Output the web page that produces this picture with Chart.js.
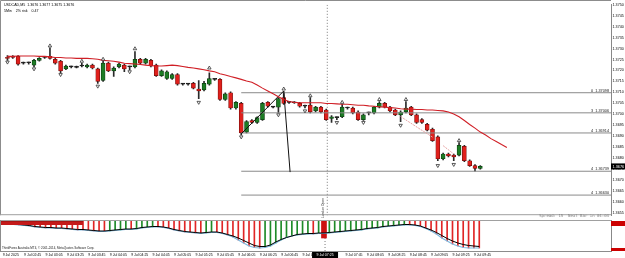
<!DOCTYPE html>
<html><head><meta charset="utf-8">
<script src="https://cdn.jsdelivr.net/npm/chart.js@4.4.1/dist/chart.umd.min.js"></script>
<style>
html,body{margin:0;padding:0;background:#fff;overflow:hidden}
#wrap{position:relative;width:625px;height:258px;background:#fff}
#c1{position:absolute;left:0;top:0}
#c2{position:absolute;left:0;top:220px}
</style></head>
<body><div id="wrap"><canvas id="c1" width="625" height="220"></canvas><canvas id="c2" width="625" height="38"></canvas></div>
<script>
// ---------- DATA ----------
const openP = [
1.37259,1.37264,1.37264,1.37233,1.37235,1.37224,1.37246,1.37259,1.37264,1.37251,
1.37242,1.37207,1.37216,1.37214,1.37220,1.37216,1.37224,1.37207,1.37154,1.37233,
1.37198,1.37216,1.37224,1.37216,1.37216,1.37251,1.37233,1.37246,1.37224,1.37176,
1.37163,1.37163,1.37181,1.37137,1.37137,1.37141,1.37115,1.37111,1.37137,1.37159,
1.37159,1.37067,1.37098,1.37028,1.37049,1.36918,1.36971,1.36962,1.36975,1.37054,
1.37032,1.37032,1.37076,1.37054,1.37052,1.37049,1.37036,1.37041,1.37015,1.37032,
1.37019,1.36980,1.36984,1.36988,1.37028,1.37028,1.37010,1.36975,1.37006,1.37006,
1.37032,1.37049,1.37032,1.37019,1.36997,1.37010,1.37032,1.36997,1.36975,1.36953,
1.36931,1.36896,1.36796,1.36818,1.36813,1.36813,1.36853,1.36787,1.36765,1.36752];
const highP = [
1.37268,1.37268,1.37268,1.37238,1.37238,1.37251,1.37259,1.37264,1.37303,1.37255,
1.37246,1.37224,1.37220,1.37220,1.37233,1.37229,1.37229,1.37211,1.37242,1.37238,
1.37216,1.37233,1.37229,1.37220,1.37286,1.37255,1.37255,1.37251,1.37229,1.37203,
1.37198,1.37185,1.37185,1.37141,1.37141,1.37146,1.37154,1.37150,1.37189,1.37163,
1.37163,1.37098,1.37102,1.37058,1.37054,1.36971,1.36975,1.36988,1.37054,1.37058,
1.37036,1.37076,1.37102,1.37058,1.37058,1.37054,1.37041,1.37076,1.37036,1.37036,
1.37023,1.36993,1.36988,1.37045,1.37032,1.37032,1.37015,1.37001,1.37010,1.37036,
1.37058,1.37054,1.37036,1.37023,1.37015,1.37058,1.37036,1.37001,1.36980,1.36958,
1.36936,1.36901,1.36822,1.36822,1.36818,1.36870,1.36857,1.36791,1.36770,1.36765];
const lowP = [
1.37246,1.37255,1.37224,1.37229,1.37229,1.37216,1.37242,1.37255,1.37251,1.37229,
1.37189,1.37203,1.37211,1.37211,1.37216,1.37211,1.37207,1.37141,1.37150,1.37194,
1.37172,1.37211,1.37194,1.37203,1.37211,1.37229,1.37229,1.37216,1.37172,1.37172,
1.37159,1.37159,1.37133,1.37133,1.37133,1.37115,1.37071,1.37106,1.37133,1.37154,
1.37063,1.37063,1.37023,1.37023,1.36905,1.36914,1.36958,1.36958,1.36971,1.37032,
1.37028,1.37006,1.37045,1.37049,1.37049,1.37032,1.37028,1.37006,1.37010,1.37006,
1.36971,1.36962,1.36975,1.36984,1.37023,1.37001,1.36971,1.36971,1.36997,1.37001,
1.37028,1.37028,1.37010,1.36993,1.36966,1.37006,1.36993,1.36958,1.36958,1.36923,
1.36875,1.36787,1.36791,1.36805,1.36787,1.36809,1.36783,1.36761,1.36739,1.36748];
const closeP = [
1.37255,1.37259,1.37229,1.37233,1.37235,1.37246,1.37255,1.37259,1.37255,1.37233,
1.37198,1.37220,1.37216,1.37214,1.37220,1.37224,1.37211,1.37150,1.37233,1.37198,
1.37211,1.37229,1.37207,1.37216,1.37251,1.37233,1.37251,1.37220,1.37176,1.37198,
1.37194,1.37181,1.37137,1.37137,1.37137,1.37119,1.37106,1.37141,1.37163,1.37159,
1.37067,1.37093,1.37028,1.37054,1.36914,1.36966,1.36962,1.36984,1.37049,1.37036,
1.37032,1.37071,1.37049,1.37054,1.37052,1.37036,1.37036,1.37010,1.37032,1.37010,
1.36975,1.36988,1.36984,1.37032,1.37028,1.37006,1.36975,1.36997,1.37006,1.37032,
1.37049,1.37032,1.37015,1.36997,1.37010,1.37028,1.36997,1.36962,1.36962,1.36927,
1.36879,1.36796,1.36818,1.36809,1.36805,1.36857,1.36787,1.36765,1.36752,1.36761];
const maP = [
1.37264,1.37264,1.37266,1.37266,1.37266,1.37266,1.37264,1.37264,1.37262,1.37259,
1.37259,1.37257,1.37257,1.37255,1.37255,1.37255,1.37253,1.37251,1.37246,1.37244,
1.37242,1.37238,1.37233,1.37231,1.37229,1.37227,1.37224,1.37222,1.37220,1.37220,
1.37222,1.37224,1.37222,1.37218,1.37214,1.37211,1.37207,1.37203,1.37198,1.37194,
1.37185,1.37179,1.37172,1.37166,1.37159,1.37152,1.37146,1.37133,1.37119,1.37106,
1.37093,1.37080,1.37067,1.37058,1.37054,1.37052,1.37052,1.37052,1.37052,1.37052,
1.37049,1.37049,1.37047,1.37045,1.37045,1.37043,1.37041,1.37041,1.37038,1.37036,
1.37034,1.37032,1.37030,1.37028,1.37025,1.37023,1.37023,1.37021,1.37021,1.37019,
1.37019,1.37017,1.37015,1.37010,1.37001,1.36988,1.36971,1.36953,1.36936,1.36918,
1.36905,1.36888,1.36875,1.36861,1.36848];
const fracUpIdx = [8,14,18,24,38,52,57,63,70,75,85];
const fracUpP   = [1.37312,1.37242,1.37251,1.37299,1.37211,1.37115,1.37084,1.37054,1.37067,1.37067,1.36879];
const fracDnIdx = [0,5,10,17,23,36,44,51,56,62,67,74,81,84];
const fracDnP   = [1.37238,1.37207,1.37181,1.37128,1.37194,1.37054,1.36896,1.36997,1.37015,1.36962,1.36962,1.36949,1.36765,1.36770];
const fibLevels = [1.37098,1.37006,1.36914,1.36739,1.36630];
const fibNames  = ['0','3','4','4','4'];
const fibStartIdx = 44;
const trendIdx = [44,52,53.2];
const trendP   = [1.36910,1.37106,1.36735];
const pinkA = {idx:[74,80], p:[1.36989,1.36895]};
const pinkB = {idx:[82,84], p:[1.36856,1.36818]};
const vLineIdx = 60.2;
const histVals = [
-5,-6,-7,-8,-9,-10,-12,-13,-14,-14,-15,-15,-16,-17,-18,-18,-19,-20,-21,-21,
-20,-19,-18,-17,-17,-16,-14,-13,-12,-12,-13,-15,-18,-20,-22,-23,-24,-25,-24,-23,
-23,-25,-28,-32,-38,-44,-50,-53,-54,-53,-50,-44,-38,-33,-30,-28,-27,-26,-26,-25,
-25,-24,-23,-22,-21,-20,-19,-18,-16,-15,-14,-12,-11,-10,-9,-8,-8,-9,-11,-15,
-20,-26,-34,-40,-46,-50,-53,-54,-54,-54];
const signalVals = [
-4,-5,-6,-7,-8,-9,-11,-12,-13,-13,-14,-14,-15,-16,-17,-17,-18,-19,-20,-20,
-19,-18,-17,-16,-16,-15,-13,-12,-11,-11,-12,-14,-17,-19,-21,-22,-23,-24,-23,-22,
-22,-24,-27,-30,-34,-39,-44,-49,-51,-51,-48,-42,-37,-33,-30,-27,-26,-25,-25,-24,
-24,-23,-22,-21,-20,-19,-18,-17,-15,-14,-13,-11,-10,-9,-8,-7,-7,-8,-10,-14,
-18,-23,-29,-35,-40,-44,-47,-49,-50,-51];
const spikeIdx = [60];
const spikeVals = [-34];
const tickIdx  = [0,4,8,12,16,20,24,28,32,36,40,44,48,52,56,64,68,72,76,80,84,88];
const tickText = ['9 Jul 2025','9 Jul 02:45','9 Jul 03:05','9 Jul 03:25','9 Jul 03:45','9 Jul 04:05','9 Jul 04:25','9 Jul 04:45','9 Jul 05:05','9 Jul 05:25','9 Jul 05:45','9 Jul 06:05','9 Jul 06:25','9 Jul 06:45','9 Jul 07:05','9 Jul 07:45','9 Jul 08:05','9 Jul 08:25','9 Jul 08:45','9 Jul 09:05','9 Jul 09:25','9 Jul 09:45'];
const cursorTime = '9 Jul 07:25';
const headerText = 'USDCAD,M5  1.3676 1.3677 1.3675 1.3676';
const infoText = '5Min    2% risk    0.47';
const spreadText = 'Spread: 15  Next Bar in 04:04';
const copyText = 'ThinkForex Australia MT4, \u00A9 2001-2014, MetaQuotes Software Corp.';

// ---------- STYLE ----------
const X_MIN = -0.5, X_MAX = 113.6;
const GREEN = '#1c7c24', RED = '#e0201c', DOJI = '#1a1a1a';
const SMALL = '"Liberation Sans", Arial, sans-serif';
Chart.defaults.font.family = SMALL;
Chart.defaults.animation = false;

const bodyColor = openP.map((o,i)=> closeP[i]>o ? GREEN : (closeP[i]<o ? RED : DOJI));
const bodyBorder = openP.map((o,i)=> closeP[i]>o ? '#0c3d10' : (closeP[i]<o ? '#7a0d0b' : DOJI));
const lineDs = (pts, color, extra) => Object.assign({type:'line', data:pts, borderColor:color, borderWidth:1, pointRadius:0, fill:false, tension:0}, extra||{});

const mainDatasets = [
  {type:'bar', data: lowP.map((l,i)=>({x:i, y:[l, highP[i]]})), backgroundColor:'#2a2a2a', barThickness:1, grouped:false, order:5},
  {type:'bar', data: openP.map((o,i)=>({x:i, y:[o, closeP[i]]})), backgroundColor:bodyColor, borderColor:bodyBorder, borderWidth:0.7, borderSkipped:false, barThickness:4, minBarLength:1, grouped:false, order:4},
  lineDs(maP.map((v,i)=>({x:i,y:v})), '#d01f26', {order:1, borderWidth:1.1}),
  lineDs(fracUpIdx.map((k,j)=>({x:k,y:fracUpP[j]})), '#444', {showLine:false, pointRadius:2, pointStyle:'triangle', pointBackgroundColor:'#fff', pointBorderColor:'#333', pointBorderWidth:0.8, order:0}),
  lineDs(fracDnIdx.map((k,j)=>({x:k,y:fracDnP[j]})), '#444', {showLine:false, pointRadius:2, pointStyle:'triangle', rotation:180, pointBackgroundColor:'#fff', pointBorderColor:'#333', pointBorderWidth:0.8, order:0}),
  ...fibLevels.map(v => lineDs([{x:fibStartIdx,y:v},{x:X_MAX,y:v}], '#8a8a8a', {order:3})),
  lineDs(trendIdx.map((k,j)=>({x:k,y:trendP[j]})), '#111', {order:2}),
  lineDs(pinkA.idx.map((k,j)=>({x:k,y:pinkA.p[j]})), '#e6a3a3', {borderDash:[2,1], order:2}),
  lineDs(pinkB.idx.map((k,j)=>({x:k,y:pinkB.p[j]})), '#e6a3a3', {borderDash:[2,1], order:2}),
  lineDs([{x:vLineIdx,y:1.3750},{x:vLineIdx,y:1.3650}], '#7a7a7a', {borderDash:[1,2], order:6})
];

const mainDeco = {
  id:'mainDeco',
  afterDraw(ch){
    const {ctx, chartArea:a, scales:{x,y}} = ch;
    ctx.save();
    ctx.strokeStyle='#8c8c8c'; ctx.lineWidth=1;
    ctx.beginPath(); ctx.moveTo(0.5,a.bottom); ctx.lineTo(0.5,0.5); ctx.lineTo(a.right,0.5); ctx.stroke();
    ctx.fillStyle='#a0a0a0'; ctx.fillRect(0, a.bottom-1, a.right, 1);
    ctx.fillStyle='#000'; ctx.font='3.6px '+SMALL; ctx.textAlign='left'; ctx.textBaseline='alphabetic';
    ctx.fillText(headerText, 4, 6);
    ctx.fillText(infoText, 4, 12);
    ctx.textAlign='right'; ctx.fillStyle='#222'; ctx.font='3.8px '+SMALL;
    fibLevels.forEach((v,k)=>{ ctx.fillText(fibNames[k]+'  '+v.toFixed(5), 609, y.getPixelForValue(v)-1); });
    ctx.fillStyle='#808080'; ctx.font='4px "DejaVu Sans Mono"';
    ctx.fillText(spreadText, 609, 217);
    const vx = x.getPixelForValue(vLineIdx);
    ctx.save(); ctx.translate(vx-3, 218); ctx.rotate(-Math.PI/2); ctx.textAlign='left'; ctx.fillStyle='#333'; ctx.font='3.3px '+SMALL;
    ctx.fillText('London Open', 0, 0); ctx.restore();
    const last = closeP[closeP.length-1];
    const py = y.getPixelForValue(last);
    ctx.fillStyle='#000'; ctx.fillRect(a.right, py-3, 625-a.right, 6);
    ctx.fillStyle='#fff'; ctx.font='3.8px '+SMALL; ctx.textAlign='left';
    ctx.fillText(last.toFixed(4), a.right+1.5, py+1.4);
    ctx.restore();
  }
};

new Chart(document.getElementById('c1'), {
  type:'bar',
  data:{datasets: mainDatasets},
  options:{
    responsive:false, animation:false, devicePixelRatio:1,
    layout:{padding:0},
    plugins:{legend:{display:false}, tooltip:{enabled:false}},
    scales:{
      x:{type:'linear', min:X_MIN, max:X_MAX, offset:false, display:false},
      y:{type:'linear', position:'right', min:1.36538, max:1.37500,
         grid:{drawOnChartArea:false, drawTicks:true, tickLength:1, color:'#777'},
         border:{display:true, color:'#888'},
         ticks:{stepSize:0.0005, includeBounds:false, autoSkip:false, padding:0.5, color:'#000', font:{size:3.7, family:SMALL}, callback:v=>Number(v).toFixed(4)},
         afterFit:s=>{ s.width=14; s.paddingTop=0; s.paddingBottom=0; }}
    }
  },
  plugins:[mainDeco]
});

// ---------- INDICATOR ----------
const histColor = histVals.map((v,i)=> (i>0 && v>histVals[i-1]) ? '#1e8a28' : '#e02525');
const subDeco = {
  id:'subDeco',
  afterDatasetsDraw(ch){
    const {ctx} = ch;
    ctx.save();
    ctx.fillStyle='#c41a1a'; ctx.fillRect(0, 0.5, 83, 4.5);
    ctx.fillStyle='#8c1010'; ctx.fillRect(0, 0.5, 83, 1);
    ctx.restore();
  },
  afterDraw(ch){
    const {ctx, chartArea:a, scales:{x}} = ch;
    ctx.save();
    ctx.fillStyle='#a0a0a0'; ctx.fillRect(0, 0, a.right, 1);
    ctx.strokeStyle='#8c8c8c'; ctx.lineWidth=1;
    ctx.beginPath(); ctx.moveTo(0.5,0); ctx.lineTo(0.5,a.bottom+0.5); ctx.lineTo(a.right,a.bottom+0.5); ctx.stroke();
    ctx.fillStyle='#cc0000'; ctx.fillRect(a.right, 1, 625-a.right, 5); ctx.fillRect(a.right, 28, 625-a.right, 3);
    ctx.fillStyle='#222'; ctx.font='3px '+SMALL; ctx.textAlign='left'; ctx.textBaseline='alphabetic';
    ctx.fillText(copyText, 2, 29);
    const vx = x.getPixelForValue(vLineIdx);
    ctx.fillStyle='#000'; ctx.fillRect(vx-13, a.bottom+1, 26, 6);
    ctx.fillStyle='#fff'; ctx.font='3.5px '+SMALL; ctx.textAlign='center';
    ctx.fillText(cursorTime, vx, a.bottom+5.3);
    ctx.restore();
  }
};

new Chart(document.getElementById('c2'), {
  type:'bar',
  data:{datasets:[
    {type:'bar', data: histVals.map((v,i)=>({x:i,y:v})), backgroundColor:histColor, barThickness:1, grouped:false, order:3},
    {type:'bar', data: spikeIdx.map((k,j)=>({x:k,y:spikeVals[j]})), backgroundColor:'#cc1010', barThickness:5, grouped:false, order:2},
    lineDs(histVals.map((v,i)=>({x:i,y:v})), '#7db9e0', {order:1, borderWidth:1.2}),
    lineDs(signalVals.map((v,i)=>({x:i,y:v})), '#000', {order:0}),
    lineDs([{x:vLineIdx,y:2},{x:vLineIdx,y:-60}], '#7a7a7a', {borderDash:[1,2], order:4})
  ]},
  options:{
    responsive:false, animation:false, devicePixelRatio:1,
    layout:{padding:0},
    plugins:{legend:{display:false}, tooltip:{enabled:false}},
    scales:{
      x:{type:'linear', min:X_MIN, max:X_MAX, offset:false,
         grid:{drawOnChartArea:false, drawTicks:true, tickLength:1, color:'#777'},
         border:{display:true, color:'#888'},
         afterBuildTicks:s=>{ s.ticks = tickIdx.map(v=>({value:v})); },
         ticks:{autoSkip:false, maxRotation:0, minRotation:0, align:'start', padding:1, color:'#000', font:{size:3.5, family:SMALL},
                callback:(v,i)=>tickText[i]},
         afterFit:s=>{ s.height=7; s.paddingLeft=0; s.paddingRight=0; }},
      y:{type:'linear', position:'right', min:-60, max:2,
         grid:{display:false}, border:{display:true, color:'#888'},
         ticks:{display:false},
         afterFit:s=>{ s.width=14; s.paddingTop=0; s.paddingBottom=0; }}
    }
  },
  plugins:[subDeco]
});
</script>
</body></html>
